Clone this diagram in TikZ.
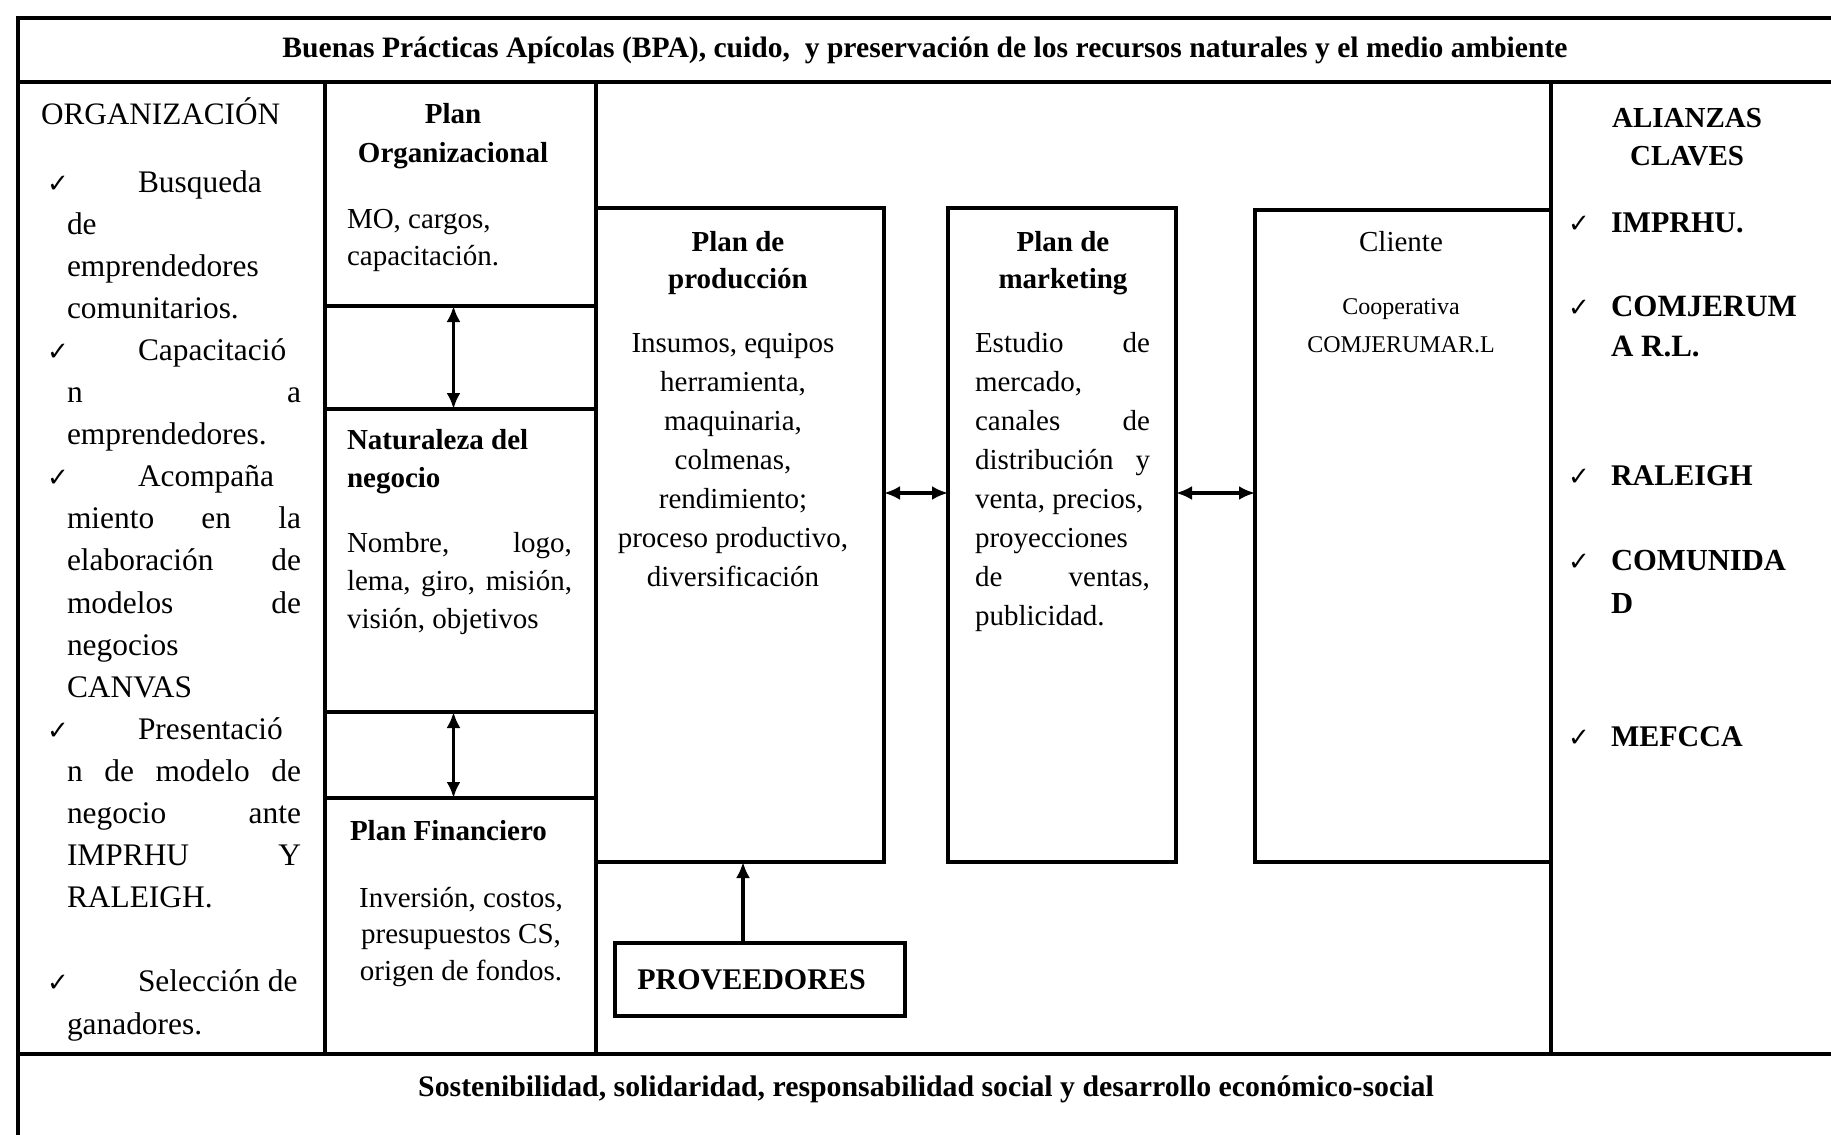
\documentclass[tikz,border=0pt]{standalone}
\usepackage{fontspec}
\setmainfont{Liberation Serif}
\newfontfamily\symfont{DejaVu Sans}
\usetikzlibrary{arrows.meta,fit}
\newcommand\chkm{{\symfont\fontsize{13}{13}\selectfont ✓}}
\newcommand\ckl[2]{\makebox[#1][l]{\chkm}#2}
\newcommand\jl[2]{\leavevmode\hbox to #1{#2}}
\begin{document}
\begin{tikzpicture}[x=0.5pt,y=-0.5pt,
  grid/.style={line width=2pt},
  box/.style={draw,line width=2pt,inner sep=0pt,outer sep=0pt},
  dbl/.style={line width=1.8pt,{Latex[length=8pt,width=7pt]}-{Latex[length=8pt,width=7pt]}},
  sgl/.style={line width=1.8pt,-{Latex[length=8pt,width=7pt]}},
  tx/.style={inner sep=0pt,outer sep=0pt,anchor=base west,font=\fontsize{14.5}{21}\selectfont},
  tc/.style={inner sep=0pt,outer sep=0pt,anchor=base,font=\fontsize{14.5}{21}\selectfont},
  bf/.style={font=\bfseries\fontsize{15}{19}\selectfont}
]
\useasboundingbox (0,0) rectangle (1831,1135);
\fill[white] (0,0) rectangle (1831,1135);

% frame and columns
\draw[grid] (1831,18) -- (18,18) -- (18,1135);
\draw[grid] (18,82) -- (1831,82);
\draw[grid] (18,1054) -- (1831,1054);
\draw[grid] (325,82) -- (325,1054);
\draw[grid] (596,82) -- (596,1054);
\draw[grid] (1551,82) -- (1551,1054);

% boxes
\node[box,fit={(325,82)(596,306)}] (porg) {};
\node[box,fit={(325,409)(596,712)}] (nat) {};
\node[box,fit={(325,798)(596,1054)}] (fin) {};
\node[box,fit={(596,208)(884,862)}] (prod) {};
\node[box,fit={(948,208)(1176,862)}] (mkt) {};
\node[box,fit={(1255,210)(1551,862)}] (cli) {};
\node[box,fit={(615,943)(905,1016)}] (prov) {};
\node[inner sep=0pt,font=\bfseries\fontsize{15}{17}\selectfont] (provt) at (751.5,979.5) {PROVEEDORES};

% header / footer
\node[tc,font=\bfseries\fontsize{14.8}{16}\selectfont] (hdr) at (925,57) {Buenas Prácticas Apícolas (BPA), cuido,\ \ y preservación de los recursos naturales y el medio ambiente};
\node[tc,font=\bfseries\fontsize{14.9}{16}\selectfont] (ftr) at (926,1096) {Sostenibilidad, solidaridad, responsabilidad social y desarrollo económico-social};

% organizacion
\node[tx,font=\fontsize{15.6}{21}\selectfont] (orgh) at (41,124) {ORGANIZACIÓN};
\node[tx] (orgb) at (47,192) {\parbox[t]{127pt}{\fontsize{15.7}{21.05}\selectfont
\ckl{45.5pt}{Busqueda}\\
\hspace*{10pt}de\\
\hspace*{10pt}emprendedores\\
\hspace*{10pt}comunitarios.\\
\ckl{45.5pt}{Capacitació}\\
\hspace*{10pt}\jl{117pt}{n\hfill a}\\
\hspace*{10pt}emprendedores.\\
\ckl{45.5pt}{Acompaña}\\
\hspace*{10pt}\jl{117pt}{miento\hfill en\hfill la}\\
\hspace*{10pt}\jl{117pt}{elaboración\hfill de}\\
\hspace*{10pt}\jl{117pt}{modelos\hfill de}\\
\hspace*{10pt}negocios\\
\hspace*{10pt}CANVAS\\
\ckl{45.5pt}{Presentació}\\
\hspace*{10pt}\jl{117pt}{n\hfill de\hfill modelo\hfill de}\\
\hspace*{10pt}\jl{117pt}{negocio\hfill ante}\\
\hspace*{10pt}\jl{117pt}{IMPRHU\hfill Y}\\
\hspace*{10pt}RALEIGH.\\
\mbox{}\\
\ckl{45.5pt}{Selección de}\\
\hspace*{10pt}ganadores.}};

% plan organizacional
\node[tc] (pot) at (453,123) {\parbox[t]{130pt}{\centering\bfseries\fontsize{14.5}{19.5}\selectfont Plan\\Organizacional}};
\node[tx] (pob) at (347,228) {\parbox[t]{120pt}{\raggedright\fontsize{14.5}{18.5}\selectfont MO, cargos,\\capacitación.}};

% naturaleza
\node[tx] (natt) at (347,449) {\parbox[t]{120pt}{\raggedright\bfseries\fontsize{14.5}{19}\selectfont Naturaleza del\\negocio}};
\node[tx] (natb) at (347,552) {\parbox[t]{112.5pt}{\fontsize{14.5}{19}\selectfont
\jl{112.5pt}{Nombre,\hfill logo,}\\
\jl{112.5pt}{lema,\hfill giro,\hfill misión,}\\
visión, objetivos}};

% financiero
\node[tx,font=\bfseries\fontsize{14.5}{19}\selectfont] (fint) at (350,840) {Plan Financiero};
\node[tc] (finb) at (461,907) {\parbox[t]{130pt}{\centering\fontsize{14.5}{18.25}\selectfont Inversión, costos,\\presupuestos CS,\\origen de fondos.}};

% produccion
\node[tc] (prot) at (738,251) {\parbox[t]{140pt}{\centering\bfseries\fontsize{14.5}{18.5}\selectfont Plan de\\producción}};
\node[tc] (prob) at (733,352) {\parbox[t]{140pt}{\centering\fontsize{14.5}{19.5}\selectfont Insumos, equipos\\herramienta,\\maquinaria,\\colmenas,\\rendimiento;\\proceso productivo,\\diversificación}};

% marketing
\node[tc] (mktt) at (1063,251) {\parbox[t]{110pt}{\centering\bfseries\fontsize{14.5}{18.5}\selectfont Plan de\\marketing}};
\node[tx] (mktb) at (975,352) {\parbox[t]{87.5pt}{\fontsize{14.5}{19.5}\selectfont
\jl{87.5pt}{Estudio\hfill de}\\
mercado,\\
\jl{87.5pt}{canales\hfill de}\\
\jl{87.5pt}{distribución\hfill y}\\
venta, precios,\\
proyecciones\\
\jl{87.5pt}{de\hfill ventas,}\\
publicidad.}};

% cliente
\node[tc] (clit) at (1401,251) {Cliente};
\node[tc] (clib) at (1401,314) {\parbox[t]{140pt}{\centering\fontsize{12}{19}\selectfont Cooperativa\\COMJERUMAR.L}};

% alianzas
\node[tc] (alh) at (1687,127) {\parbox[t]{130pt}{\centering\bfseries\fontsize{14.5}{19}\selectfont ALIANZAS\\CLAVES}};
\node[tx,bf] (al1) at (1568,232) {\ckl{21.5pt}{IMPRHU.}};
\node[tx] (al2) at (1568,316) {\parbox[t]{130pt}{\bfseries\fontsize{15.5}{20}\selectfont\ckl{21.5pt}{COMJERUM}\\\hspace*{21.5pt}A R.L.}};
\node[tx,bf] (al3) at (1568,485) {\ckl{21.5pt}{RALEIGH}};
\node[tx] (al4) at (1568,570) {\parbox[t]{130pt}{\bfseries\fontsize{15.3}{21.5}\selectfont\ckl{21.5pt}{COMUNIDA}\\\hspace*{21.5pt}D}};
\node[tx,bf] (al5) at (1568,746) {\ckl{21.5pt}{MEFCCA}};

% connectors
\coordinate (ay) at (0,493);
\coordinate (ax) at (743,0);
\draw[dbl] ([xshift=-3.5pt]porg.south) -- ([xshift=-3.5pt]nat.north);
\draw[dbl] ([xshift=-3.5pt]nat.south) -- ([xshift=-3.5pt]fin.north);
\draw[dbl] (prod.east |- ay) -- (mkt.west |- ay);
\draw[dbl] (mkt.east |- ay) -- (cli.west |- ay);
\draw[sgl] (prov.north -| ax) -- (prod.south -| ax);
\end{tikzpicture}
\end{document}
